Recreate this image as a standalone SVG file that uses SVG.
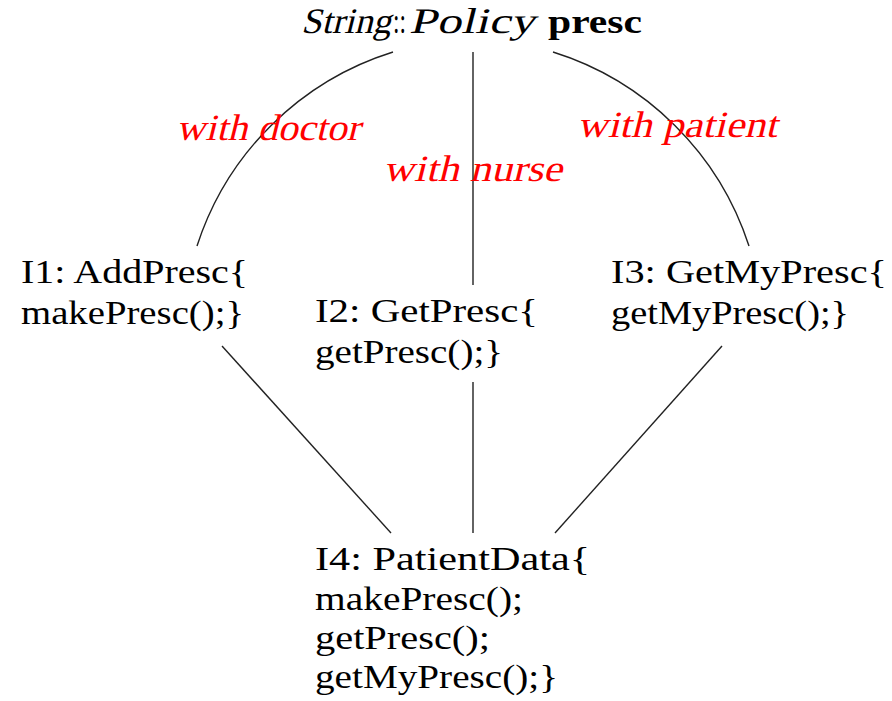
<svg xmlns="http://www.w3.org/2000/svg" width="892" height="701" viewBox="0 0 892 701">
<style>
  .t { font-family: "Liberation Serif", "Times New Roman", serif; font-size: 34px; fill: #000; }
  .ti { font-family: "Liberation Serif", "Times New Roman", serif; font-size: 36px; fill: #000; }
  .bd { font-weight: bold; }
  .lbl { font-family: "Liberation Serif", "Times New Roman", serif; font-size: 37px; fill: #ff0000; }
  .c { fill: none; stroke: #222; stroke-width: 1.4; }
</style>
<rect width="892" height="701" fill="#fff"/>
<g id="connectors">
  <path class="c" d="M393,52 A300,300 0 0,0 197,246"/>
  <path class="c" d="M473,52 L473,285"/>
  <path class="c" d="M553,52 A300,300 0 0,1 749,246"/>
  <path class="c" d="M222,346 L391,533"/>
  <path class="c" d="M473,382 L473,533"/>
  <path class="c" d="M722,346 L555,533"/>
  <g transform="translate(176,140) skewX(-14)"><text class="lbl" x="0" y="0" textLength="184" lengthAdjust="spacingAndGlyphs">with doctor</text></g>
  <g transform="translate(383,181) skewX(-14)"><text class="lbl" x="0" y="0" textLength="179" lengthAdjust="spacingAndGlyphs">with nurse</text></g>
  <g transform="translate(577,137) skewX(-14)"><text class="lbl" x="0" y="0" textLength="200" lengthAdjust="spacingAndGlyphs">with patient</text></g>
</g>
<g id="policy">
  <g transform="translate(301,33) skewX(-14)"><text class="ti" x="0" y="0" textLength="90" lengthAdjust="spacingAndGlyphs">String</text></g>
  <text class="ti" x="393" y="33" textLength="13" lengthAdjust="spacingAndGlyphs">::</text>
  <g transform="translate(409,33) skewX(-14)"><text class="ti" x="0" y="0" textLength="126" lengthAdjust="spacingAndGlyphs">Policy</text></g>
  <text class="t bd" x="548" y="33" textLength="94" lengthAdjust="spacingAndGlyphs">presc</text>
</g>
<g id="I1">
  <text class="t" x="21" y="283" textLength="227" lengthAdjust="spacingAndGlyphs">I1:  AddPresc{</text>
  <text class="t" x="21" y="324" textLength="223" lengthAdjust="spacingAndGlyphs">makePresc();}</text>
</g>
<g id="I2">
  <text class="t" x="315" y="322" textLength="223" lengthAdjust="spacingAndGlyphs">I2:  GetPresc{</text>
  <text class="t" x="315" y="363" textLength="188" lengthAdjust="spacingAndGlyphs">getPresc();}</text>
</g>
<g id="I3">
  <text class="t" x="611" y="283" textLength="276" lengthAdjust="spacingAndGlyphs">I3:  GetMyPresc{</text>
  <text class="t" x="611" y="324" textLength="238" lengthAdjust="spacingAndGlyphs">getMyPresc();}</text>
</g>
<g id="I4">
  <text class="t" x="315" y="570" textLength="275" lengthAdjust="spacingAndGlyphs">I4:  PatientData{</text>
  <text class="t" x="315" y="610" textLength="208" lengthAdjust="spacingAndGlyphs">makePresc();</text>
  <text class="t" x="315" y="649" textLength="175" lengthAdjust="spacingAndGlyphs">getPresc();</text>
  <text class="t" x="315" y="688" textLength="243" lengthAdjust="spacingAndGlyphs">getMyPresc();}</text>
</g>
</svg>
